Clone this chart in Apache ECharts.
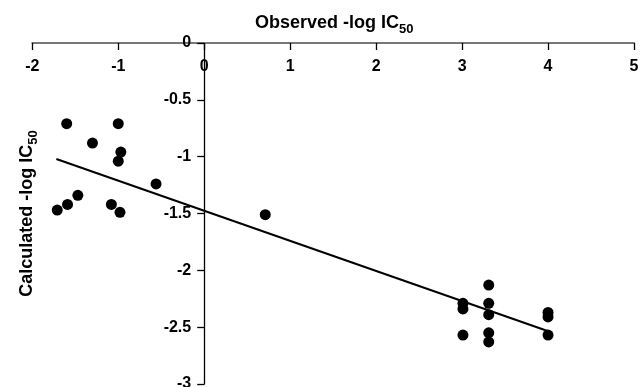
<!DOCTYPE html>
<html>
<head>
<meta charset="utf-8">
<script src="https://cdn.jsdelivr.net/npm/echarts@6/dist/echarts.min.js"></script>
<style>
html,body{margin:0;padding:0;background:#fff;}
#chart{width:640px;height:387px;}
</style>
</head>
<body>
<div id="chart"></div>
<script>
// Observed -log IC50 (x) and Calculated -log IC50 (y)
var observed = [-1.60, -1.00, -1.30, -0.97, -1.00, -0.56, -1.47, -1.59, -1.71, -1.08, -0.98,
                0.71,
                3.01, 3.01, 3.01, 3.31, 3.31, 3.31, 3.31, 3.31, 4.00, 4.00, 4.00];
var calculated = [-0.71, -0.71, -0.88, -0.96, -1.04, -1.24, -1.34, -1.42, -1.47, -1.42, -1.49,
                  -1.51,
                  -2.29, -2.34, -2.57, -2.13, -2.29, -2.39, -2.55, -2.63, -2.37, -2.41, -2.57];
// regression line endpoints
var fitX = [-1.72, 4.02];
var fitY = [-1.02, -2.54];
var xTicks = {min: -2, max: 5, interval: 1};
var yTicks = {min: -3, max: 0, interval: 0.5};

var font = 'Liberation Sans, Arial, Helvetica, sans-serif';
var richName = {
  a: {fontSize: 18, fontWeight: 'bold', fontFamily: font, color: '#000'},
  s: {fontSize: 13, fontWeight: 'bold', fontFamily: font, color: '#000', padding: [13, 0, 0, 0]}
};

var gridLeft = 32.3, gridRight = 6;
var plotW = 640 - gridLeft - gridRight;
// y axis sits at x = 0 of the observed scale
var yAxisShift = plotW * (0 - xTicks.min) / (xTicks.max - xTicks.min);

var chart = echarts.init(document.getElementById('chart'), null, {renderer: 'canvas'});
chart.setOption({
  animation: false,
  backgroundColor: '#fff',
  title: {
    text: '{a|Observed -log IC}{s|50}',
    left: 250,
    top: 5,
    textStyle: {rich: richName}
  },
  grid: {left: gridLeft, right: gridRight, top: 43, bottom: 3, containLabel: false, outerBoundsMode: 'none'},
  xAxis: {
    type: 'value',
    min: xTicks.min, max: xTicks.max, interval: xTicks.interval,
    position: 'top',
    axisLine: {onZero: false, lineStyle: {color: '#777', width: 2}},
    axisTick: {show: true, inside: true, length: 7, lineStyle: {color: '#000', width: 1.3}},
    axisLabel: {inside: true, color: '#000', fontSize: 16, fontWeight: 'bold', fontFamily: font, margin: 16},
    splitLine: {show: false}
  },
  yAxis: {
    type: 'value',
    min: yTicks.min, max: yTicks.max, interval: yTicks.interval,
    position: 'left',
    offset: -yAxisShift,
    axisLine: {onZero: false, lineStyle: {color: '#000', width: 1.3}},
    axisTick: {show: true, length: 7, lineStyle: {color: '#000', width: 1.3}},
    axisLabel: {color: '#000', fontSize: 16, fontWeight: 'bold', fontFamily: font, margin: 13},
    splitLine: {show: false},
    name: '{a|Calculated -log IC}{s|50}',
    nameLocation: 'middle',
    nameGap: 164,
    nameTextStyle: {rich: richName}
  },
  series: [
    {
      type: 'scatter',
      data: observed.map(function (v, i) { return [v, calculated[i]]; }),
      symbol: 'circle',
      symbolSize: 11,
      itemStyle: {color: '#000', opacity: 1},
      z: 3
    },
    {
      type: 'line',
      data: fitX.map(function (v, i) { return [v, fitY[i]]; }),
      symbol: 'none',
      lineStyle: {color: '#000', width: 2},
      z: 2
    }
  ]
});
</script>
</body>
</html>
